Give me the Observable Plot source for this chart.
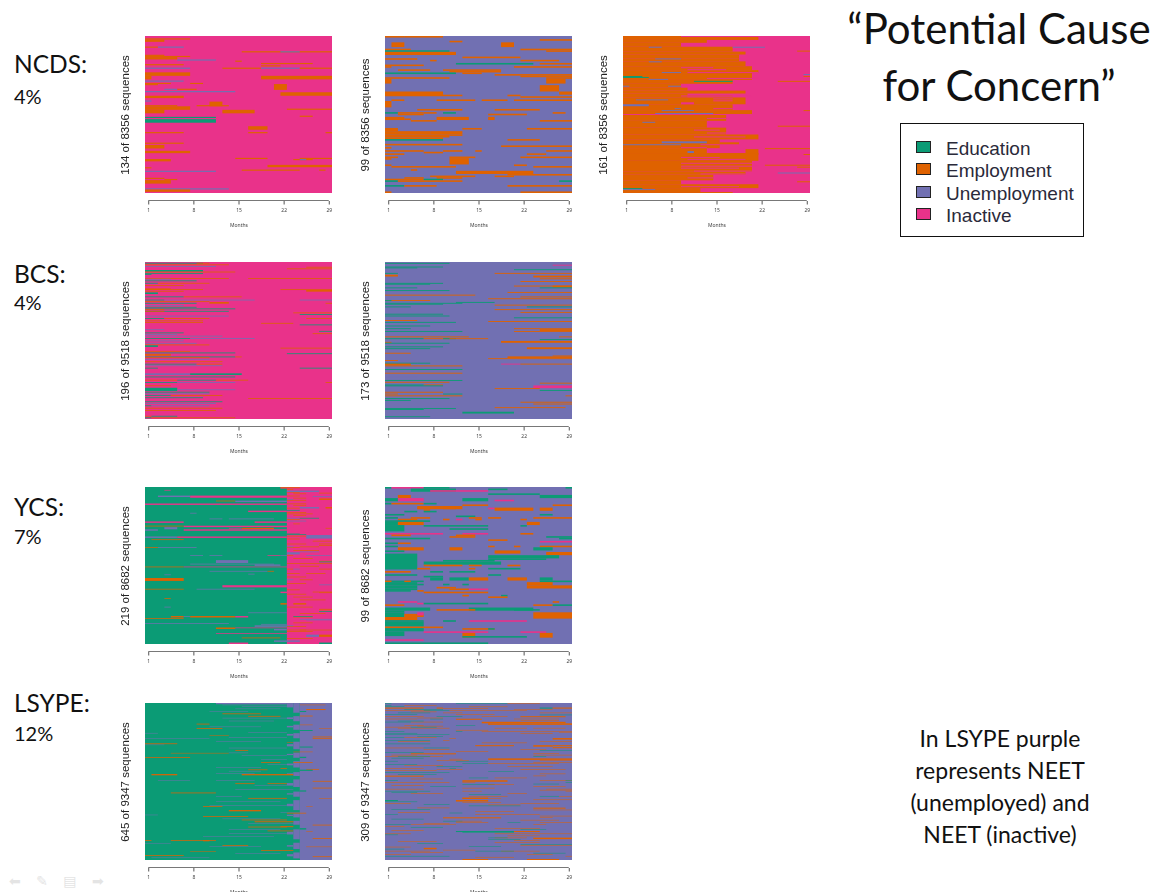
<!DOCTYPE html>
<html><head><meta charset="utf-8">
<script src="https://cdn.jsdelivr.net/npm/d3@7"></script>
<script src="https://cdn.jsdelivr.net/npm/@observablehq/plot@0.6"></script>
<style>
html,body{margin:0;padding:0;background:#fff;overflow:hidden}
#page{position:relative;width:1154px;height:892px;overflow:hidden;background:#fff;font-family:Lato,"Open Sans",sans-serif;color:#111}
.abs{position:absolute;white-space:nowrap}
.panel{position:absolute;filter:blur(0.5px)}
.panel svg{display:block;overflow:visible}
.study{font-size:24.5px;line-height:30px}
.pct{font-size:20px;line-height:30px}
.title{font-size:42px;line-height:57px;text-align:center;width:320px}
.note{font-size:23px;line-height:32px;text-align:center;width:240px}
#legend{position:absolute;left:900px;top:123px;width:184px;height:114px;border:1.5px solid #111;box-sizing:border-box;font-family:"Liberation Sans",Arial,sans-serif;font-size:19px;color:#2a2a3a}
#legend span.sw{position:absolute;left:15px;width:13px;height:10px;border:1.5px solid #222}
#legend span.tx{position:absolute;left:45px;line-height:22px}
#nav{left:9px;top:873px;font-family:"DejaVu Sans";font-size:14px;color:#e4e4e4;word-spacing:11px}
</style></head><body><div id="page"></div>
<script>
const E="Employment",G="Education",U="Unemployment",I="Inactive";
const states=[G,E,U,I];
const stateColors=["#0B9B75","#DF6200","#7170B2","#E9328A"];
const months=[1,8,15,22,29];
const studyNames=[["NCDS:",49],["BCS:",259],["YCS:",492],["LSYPE:",688]];
const studyShares=[["4%",81],["4%",287],["7%",521],["12%",718]];
const titleLines=["“Potential Cause","for Concern”"];
const noteLines=["In LSYPE purple","represents NEET","(unemployed) and","NEET (inactive)"];

// each segment: [state, first sequence, last sequence, first month, last month]; sequences counted from the top
const ncdsInactive=[
[E,3,3,1,7],[E,4,5,1,3],[E,10,10,1,2],[U,10,10,3,6],[E,14,14,16,29],[U,14,14,22,24],[E,17,17,1,3],[E,18,18,1,7],[E,19,20,1,5],[U,21,21,6,11],[E,22,22,15,15],[E,24,24,19,26],[E,25,25,1,6],[E,26,26,19,21],[U,28,28,1,7],[E,28,28,13,18],[U,28,28,19,24],[E,28,28,25,29],[E,32,34,1,7],[E,35,37,1,1],[E,35,37,19,29],[U,39,39,1,6],[E,41,41,1,4],[E,41,41,8,9],[E,42,42,1,2],[E,42,46,21,22],[U,46,46,4,5],[E,46,46,6,8],[U,48,48,1,14],[E,49,51,22,29],[E,52,53,1,6],[U,56,56,1,1],[E,57,60,11,12],[E,60,60,9,13],[E,61,63,1,7],[E,60,60,1,5],[E,63,63,23,29],[E,64,66,1,3],[E,64,66,13,17],[E,69,69,25,26],[G,70,70,1,11],[G,72,74,1,11],[E,78,80,17,19],[E,83,83,1,6],[E,83,83,17,19],[E,83,83,29,29],[E,92,92,1,6],[E,94,96,1,3],[E,99,100,1,7],[E,105,105,15,19],[E,105,105,25,29],[E,106,107,1,4],[E,106,106,24,26],[U,106,106,25,25],[E,111,112,20,29],[E,113,113,1,1],[E,115,115,16,24],[E,115,115,28,28],[U,116,116,1,11],[E,122,122,1,3],[E,123,123,4,5],[E,124,126,1,4],[U,131,131,1,13],[E,132,133,1,7]];

const ncdsUnemployment=[
[E,1,1,1,3],[E,1,1,4,9],[E,3,3,25,29],[E,4,4,11,12],[E,5,7,2,3],[E,5,7,19,20],[E,9,9,22,29],[E,9,9,1,4],[G,10,10,1,10],[E,10,10,26,29],[E,11,12,1,11],[E,14,14,13,21],[E,15,15,1,5],[E,16,16,8,8],[E,16,16,22,27],[G,18,18,12,23],[E,18,18,25,29],[E,19,19,1,6],[E,20,20,1,1],[E,20,20,21,29],[E,22,22,3,7],[E,22,22,10,18],[E,23,23,11,18],[G,24,24,1,11],[E,24,24,13,15],[E,25,25,18,29],[E,26,26,22,29],[E,27,27,1,10],[E,27,27,26,29],[E,28,30,1,1],[E,28,30,26,28],[E,32,35,25,27],[E,36,38,1,9],[E,36,37,28,29],[E,38,38,10,12],[E,38,38,20,21],[E,39,39,22,29],[E,41,41,9,14],[E,41,41,16,19],[E,41,41,21,29],[E,42,45,1,1],[E,41,41,2,3],[E,47,47,6,12],[E,47,47,18,24],[G,49,49,1,2],[E,49,49,3,6],[E,49,49,7,8],[G,49,49,10,11],[E,49,49,27,28],[E,50,50,3,6],[E,50,50,17,22],[E,52,53,1,3],[E,52,53,9,13],[E,52,53,17,17],[E,53,53,4,4],[E,54,54,5,8],[E,54,54,25,29],[E,59,60,1,2],[E,59,59,13,15],[E,59,59,23,29],[E,61,62,1,7],[E,61,62,8,12],[E,63,64,1,10],[E,63,63,11,12],[E,65,65,1,9],[G,66,66,1,9],[E,66,66,20,24],[E,69,69,1,12],[E,70,70,19,29],[E,71,71,1,1],[E,73,73,1,6],[E,73,73,10,12],[E,73,73,15,15],[E,73,73,26,29],[E,74,74,7,9],[E,75,75,1,3],[E,75,75,23,25],[E,77,77,1,2],[E,77,77,11,14],[E,77,77,22,29],[E,78,78,1,1],[E,78,81,11,13],[E,82,82,21,22],[E,82,82,1,1],[E,83,83,2,11],[E,83,83,24,29],[E,85,85,5,5],[E,86,87,12,23],[E,88,88,20,29],[E,89,89,8,14],[E,89,89,18,20],[E,90,90,4,6],[E,90,90,9,12],[E,91,91,1,6],[G,91,91,7,9],[G,92,92,1,2],[E,92,92,3,12],[G,92,92,28,29],[G,95,95,1,3],[E,95,95,4,8],[E,95,95,20,29],[E,99,99,1,1],[E,99,99,22,29]];

const ncdsEmployment=[
[E,1,1,1,9],[E,2,4,1,21],[E,5,7,1,13],[E,8,11,1,9],[E,12,16,1,17],[U,12,12,18,22],[E,17,19,1,19],[E,20,23,1,18],[E,24,26,1,18],[E,27,31,1,19],[E,32,35,1,20],[E,36,38,1,21],[E,39,45,1,20],[E,46,49,1,17],[E,50,53,1,9],[E,54,56,1,10],[E,57,59,1,19],[E,60,63,1,10],[E,62,62,11,17],[E,64,70,1,19],[E,71,76,1,17],[E,77,80,1,20],[E,82,87,1,16],[E,88,94,1,13],[E,95,101,1,16],[E,102,106,1,21],[E,107,115,1,15],[E,110,111,16,18],[E,116,120,1,13],[E,117,122,20,21],[E,121,128,1,21],[E,129,139,1,20],[E,140,142,1,19],[E,143,148,1,14],[E,149,152,1,9],[E,153,156,1,21],[E,157,160,1,12],[E,161,161,1,17],
[I,35,35,11,16],[I,38,38,11,21],[I,44,44,14,21],[I,33,33,10,14],[I,62,62,10,20],[I,65,65,15,17],[I,67,67,15,17],[I,75,75,15,17],[I,85,85,14,16],[I,97,97,12,15],[I,100,100,14,17],[I,104,104,12,19],[I,112,112,13,15],[I,115,115,10,13],[I,125,125,10,15],[I,127,127,11,19],[I,131,131,10,20],[I,134,134,10,21],[I,136,136,10,18],[I,139,139,12,20],[I,142,142,13,19],[I,146,146,11,14],[I,155,155,10,18],
[U,12,12,5,6],[U,24,24,6,7],[U,24,24,8,9],[U,27,27,5,6],[U,38,38,7,9],[G,42,42,1,3],[G,43,43,1,4],[U,45,45,5,7],[G,47,47,12,17],[U,52,52,1,1],[U,52,52,8,9],[U,66,66,3,7],[I,69,70,10,11],[U,71,72,1,4],[U,75,75,9,9],[U,77,77,7,11],[U,80,80,6,14],[U,89,89,4,5],[U,109,110,7,13],[U,112,112,1,9],[U,119,120,11,11],[E,16,16,28,29],[E,42,42,29,29],[U,40,40,29,29],[E,47,47,25,29],[E,77,77,29,29],[E,93,93,25,29],[E,116,116,23,29],[E,122,122,29,29],[E,133,133,23,29],[E,135,135,28,29],[U,141,141,25,29],[E,150,150,28,29],[G,157,157,1,3],[U,158,158,1,5]];

const bcsInactive=[
[G,2,2,1,9],[E,2,2,9,10],[E,4,4,1,13],[U,6,6,1,11],[E,7,7,26,29],[E,9,9,23,29],[G,11,12,1,9],[E,13,13,1,9],[E,13,13,10,14],[G,15,15,1,9],[G,16,16,1,1],[E,21,21,1,13],[E,21,21,17,29],[U,22,22,1,4],[G,24,24,1,8],[G,27,27,1,2],[E,27,27,3,10],[E,30,30,1,6],[E,34,35,1,4],[E,35,35,5,9],[E,35,35,22,29],[E,36,37,26,29],[E,37,37,1,6],[G,39,40,1,2],[G,44,44,1,6],[E,44,44,7,15],[G,48,48,1,3],[U,48,48,4,17],[U,48,48,25,29],[E,50,50,1,10],[G,52,52,1,8],[E,51,52,11,13],[E,52,52,29,29],[U,55,55,1,6],[G,57,57,1,8],[G,59,59,1,14],[E,60,60,1,3],[G,62,62,1,13],[E,64,64,24,29],[E,62,62,1,3],[G,66,66,25,29],[U,68,68,1,13],[G,71,71,1,3],[E,71,71,4,10],[E,71,71,26,29],[E,74,74,1,9],[E,76,76,1,9],[E,77,77,19,23],[G,79,79,25,29],[U,85,85,1,1],[U,85,85,2,3],[G,87,87,28,29],[G,89,89,1,6],[E,90,90,27,29],[U,91,91,1,5],[U,93,93,1,12],[G,96,96,1,7],[U,96,96,8,17],[U,99,99,1,6],[U,102,102,1,8],[E,104,104,1,10],[G,105,106,1,2],[E,108,108,22,29],[E,112,112,1,7],[G,114,114,1,14],[G,115,115,23,29],[E,116,117,1,4],[G,119,119,1,14],[E,119,119,15,15],[E,120,120,1,10],[U,122,122,1,10],[E,125,125,1,12],[G,128,128,1,8],[E,128,128,9,12],[U,130,130,1,12],[G,133,133,1,2],[G,133,133,25,29],[U,140,141,1,7],[G,140,141,8,15],[G,144,144,1,14],[E,148,148,1,5],[G,148,148,6,11],[E,148,148,12,16],[G,151,151,1,5],[U,151,151,6,14],[E,151,151,29,29],[E,155,155,1,4],[G,158,161,1,5],[U,160,160,6,14],[G,163,163,1,10],[U,165,165,1,10],[G,167,167,1,4],[E,167,167,5,12],[G,170,170,1,9],[E,171,171,17,29],[G,175,175,1,12],[U,177,177,1,11],[G,180,180,1,1],[U,180,180,2,10],[E,183,183,1,12],[E,186,186,1,4],[E,186,186,5,11],[E,193,193,1,1],[G,193,193,2,5],[G,195,195,1,1],[E,195,195,2,14]];

const bcsUnemployment=[
[G,2,2,1,10],[I,4,4,27,29],[G,6,6,1,9],[G,7,7,1,5],[G,9,9,21,29],[G,13,13,1,2],[E,13,13,18,29],[E,15,16,1,2],[E,16,17,24,29],[E,19,19,25,29],[E,22,22,22,29],[G,24,24,1,9],[G,25,25,1,7],[E,27,27,21,29],[E,27,28,27,29],[G,29,29,1,5],[G,29,29,25,29],[G,32,32,1,10],[E,34,34,20,29],[E,37,37,1,14],[E,39,39,22,29],[E,41,41,17,29],[E,43,43,1,7],[G,43,43,1,1],[G,45,45,12,17],[G,46,46,1,12],[G,47,47,1,9],[E,48,48,18,29],[G,50,50,1,4],[G,50,50,23,29],[E,53,53,18,29],[E,56,56,22,29],[G,58,58,1,9],[G,60,60,1,10],[G,62,62,21,29],[E,65,65,1,5],[E,66,66,17,29],[G,67,67,1,11],[G,71,71,1,7],[G,74,74,1,4],[E,74,74,21,29],[E,75,76,25,29],[G,77,77,1,12],[E,77,77,21,29],[E,83,83,1,13],[E,83,83,28,29],[G,85,85,1,6],[E,85,85,7,10],[G,85,85,10,11],[E,85,85,11,16],[G,86,86,25,29],[E,88,89,19,29],[E,89,89,1,1],[G,90,90,1,10],[G,94,94,1,9],[G,96,96,1,7],[E,95,96,23,29],[E,101,101,1,4],[E,104,104,27,29],[E,105,106,20,29],[E,107,107,17,29],[E,109,109,1,2],[G,112,112,1,5],[G,112,112,6,7],[E,113,114,1,4],[I,113,113,19,21],[E,113,113,22,29],[E,115,115,1,12],[G,119,119,1,12],[E,123,123,1,12],[U,127,127,1,5],[G,131,131,1,12],[E,133,133,1,10],[E,134,134,25,29],[G,136,136,1,6],[E,136,136,7,9],[G,137,137,1,9],[I,137,139,24,29],[E,140,140,18,24],[G,142,142,25,29],[E,144,144,1,9],[E,146,146,1,2],[G,146,146,10,12],[E,148,148,1,7],[E,148,148,8,12],[E,148,148,29,29],[G,151,151,1,10],[G,153,153,1,4],[E,155,155,22,29],[E,157,157,24,29],[E,161,161,18,28],[G,162,163,1,6],[G,162,162,7,11],[G,166,167,13,20],[G,171,171,1,7]];

const ycsEducation=[
[I,1,219,23,29],[E,1,2,22,24],[U,6,7,23,27],[I,2,2,22,24],[I,5,5,4,4],[E,8,8,23,24],[E,9,9,28,29],[I,9,9,23,23],[U,13,14,3,7],[I,13,15,8,22],[U,14,14,27,29],[E,17,18,28,29],[U,18,18,23,23],[E,20,20,12,14],[U,20,21,15,22],[E,19,19,23,25],[I,24,25,1,22],[U,29,30,25,27],[E,29,30,29,29],[E,30,30,23,24],[I,34,35,17,22],[U,37,37,8,8],[E,36,36,23,25],[U,45,45,11,12],[U,45,45,14,20],[I,49,50,1,6],[I,49,50,18,23],[U,48,48,23,25],[E,55,55,1,6],[I,55,56,7,23],[U,57,59,4,5],[I,58,58,14,15],[E,58,59,16,20],[E,58,58,29,29],[U,60,61,1,2],[I,60,61,7,22],[U,68,72,26,29],[U,70,71,1,5],[I,70,71,6,22],[E,69,69,23,25],[E,74,74,2,6],[E,76,76,27,29],[E,82,82,28,29],[E,85,85,1,2],[U,85,85,3,8],[E,85,85,23,24],[U,96,96,8,9],[U,96,96,11,12],[I,96,96,20,21],[U,96,96,22,22],[U,96,96,29,29],[U,92,94,23,24],[U,103,106,12,16],[U,108,108,8,20],[U,109,110,18,21],[E,112,112,1,6],[I,112,112,7,23],[U,118,118,11,19],[E,118,118,20,20],[U,122,122,17,17],[U,123,123,4,4],[E,128,131,1,6],[I,138,140,13,22],[E,143,143,1,6],[U,143,143,9,17],[E,148,148,28,29],[I,147,148,22,23],[E,156,156,4,4],[E,163,164,22,22],[E,163,164,24,25],[U,168,168,4,4],[E,171,171,28,29],[U,176,176,17,22],[E,181,182,5,6],[U,181,181,7,7],[E,181,182,8,14],[I,181,182,15,16],[E,184,184,1,6],[U,185,185,25,29],[E,182,182,24,26],[U,191,191,1,13],[U,192,192,19,22],[U,194,195,18,23],[E,197,198,12,14],[I,197,197,15,22],[U,199,200,21,22],[E,200,200,23,25],[I,205,205,12,23],[U,207,209,26,27],[E,207,209,28,29],[E,211,211,16,21],[U,215,216,21,24],[I,218,219,14,16],[G,218,219,28,29],
[E,4,4,23,23],[E,10,10,24,25],[E,13,13,23,24],[E,16,16,24,25],[E,24,24,23,25],[E,26,26,24,25],[G,33,33,23,24],[E,38,38,23,25],[E,38,38,26,26],[E,40,40,24,25],[U,44,44,23,24],[G,44,44,25,27],[E,46,46,23,24],[E,52,52,24,24],[G,66,66,23,24],[G,67,67,23,25],[E,73,73,23,24],[E,80,80,23,25],[E,80,80,28,29],[U,84,84,23,23],[E,84,84,25,27],[E,89,89,24,27],[U,91,91,25,27],[U,96,96,26,28],[E,96,96,23,23],[E,100,100,24,26],[E,104,104,28,29],[G,105,105,28,29],[E,107,107,23,29],[E,111,111,25,27],[E,115,115,23,23],[U,115,115,24,24],[E,115,115,28,29],[E,121,121,26,28],[E,121,121,23,24],[E,126,126,23,25],[U,130,130,23,23],[E,130,130,25,26],[E,135,135,23,25],[U,137,137,28,29],[E,144,144,23,24],[E,147,147,27,29],[E,150,150,23,25],[E,154,154,24,26],[E,158,158,25,28],[E,168,168,23,26],[E,172,172,28,29],[G,174,174,28,29],[E,177,177,25,28],[G,181,181,24,26],[U,186,186,26,29],[E,190,190,24,26],[E,195,195,23,25],[E,200,200,25,29],[E,202,202,23,26],[E,212,212,23,26]];

const ycsUnemployment=[
[G,1,1,1,1],[I,1,1,2,6],[G,1,1,7,10],[G,1,1,29,29],[G,2,3,5,11],[G,2,2,17,19],[I,3,3,8,16],[G,5,5,17,24],[E,6,7,3,4],[G,6,7,25,29],[G,8,9,1,2],[I,8,9,3,6],[G,8,9,13,16],[I,9,9,18,20],[G,11,11,1,1],[E,11,11,2,6],[G,11,11,7,8],[E,12,12,13,16],[E,12,12,27,29],[E,13,14,6,12],[E,14,14,6,6],[E,13,14,10,11],[I,14,14,17,17],[E,14,15,18,23],[E,14,15,25,26],[E,15,15,7,7],[G,16,16,4,5],[G,16,16,7,8],[G,18,18,1,3],[G,18,18,25,26],[G,19,19,12,14],[G,20,20,1,2],[E,20,20,5,7],[E,20,20,14,15],[E,20,20,17,18],[E,20,20,24,29],[E,21,21,3,5],[E,21,21,10,10],[I,21,21,12,12],[E,21,21,15,15],[E,21,21,22,22],[G,22,22,1,7],[G,23,24,1,2],[E,23,24,3,6],[E,23,24,23,24],[G,25,28,1,3],[G,25,25,7,9],[G,25,25,10,16],[G,27,27,11,16],[G,25,25,22,22],[I,30,30,1,9],[I,30,30,13,16],[E,30,30,22,23],[E,31,31,2,4],[E,31,31,12,14],[E,32,32,11,14],[G,32,32,26,29],[G,33,33,1,7],[G,33,33,28,29],[E,34,34,17,19],[I,35,35,25,29],[G,36,36,1,2],[E,36,36,3,4],[G,38,38,1,2],[E,38,38,17,17],[E,38,38,21,21],[E,38,38,25,29],[E,39,40,3,6],[E,39,40,11,12],[G,39,40,24,26],[G,41,41,1,3],[E,41,42,18,21],[E,42,43,26,29],[G,43,52,1,5],[G,44,45,17,27],[G,46,46,17,25],[G,47,47,10,17],[G,48,49,7,18],[E,50,50,7,12],[E,50,50,14,15],[E,50,50,20,21],[E,52,52,6,7],[E,52,52,14,14],[G,52,52,17,21],[E,54,54,1,4],[G,54,54,8,9],[G,54,54,11,14],[G,56,56,1,5],[G,56,56,17,18],[G,57,57,7,9],[G,58,59,8,9],[G,58,59,11,13],[E,58,59,14,16],[E,58,59,20,22],[G,58,59,25,26],[G,60,60,1,6],[E,60,60,1,1],[E,60,60,4,4],[G,60,60,25,29],[G,61,62,1,5],[G,62,62,6,6],[G,62,62,10,10],[G,62,62,13,13],[E,61,62,23,26],[G,63,64,1,5],[E,64,64,9,11],[E,63,64,23,29],[E,65,65,11,13],[I,65,65,14,16],[G,65,65,1,5],[E,66,66,6,6],[G,66,66,1,4],[E,67,67,7,16],[E,69,69,13,13],[G,69,69,19,19],[E,70,70,17,19],[I,73,73,3,5],[I,74,74,6,6],[G,74,74,7,16],[E,73,73,27,27],[E,75,75,1,3],[E,75,75,24,26],[G,75,75,27,29],[G,77,78,1,7],[G,77,78,14,23],[E,78,78,9,14],[G,79,79,1,3],[G,78,78,21,24],[G,80,82,1,3],[E,81,82,4,6],[I,80,81,6,6],[E,80,83,24,29],[E,83,84,1,5],[G,85,85,1,6],[G,85,85,10,11],[I,85,85,14,22],[G,86,88,1,6],[E,89,89,1,9],[G,90,91,1,6],[E,90,90,13,17],[G,90,90,17,17],[I,92,92,7,16],[I,92,92,22,25],[G,92,94,1,3],[E,93,95,13,14],[E,93,95,25,26],[G,95,95,13,22],[I,97,97,1,6],[G,99,99,1,16]];

const lsypeEducation=[
[U,1,645,25,29],
[U,1,40,24,24],[U,55,75,24,24],[U,90,110,24,24],[U,125,145,24,24],[U,160,190,24,24],[U,205,225,24,24],[U,240,265,24,24],[U,285,300,24,24],[U,315,345,24,24],[U,365,385,24,24],[U,400,440,24,24],[U,455,470,24,24],[U,485,500,24,24],[U,520,560,24,24],[U,575,600,24,24],[U,615,640,24,24],
[U,1,18,23,23],[U,60,66,23,23],[U,95,100,23,23],[U,128,134,23,23],[U,170,178,23,23],[U,210,214,23,23],[U,250,256,23,23],[U,290,294,23,23],[U,330,338,23,23],[U,372,376,23,23],[U,415,424,23,23],[U,460,464,23,23],[U,530,540,23,23],[U,585,590,23,23],[U,622,630,23,23],
[U,1,5,12,22],[U,8,9,13,22],[U,14,15,16,22],[U,24,25,15,21],[U,35,36,11,16],[U,62,63,13,22],[U,74,75,14,20],[U,98,99,11,18],[U,122,123,17,22],[U,124,125,1,2],[U,145,146,1,10],[U,142,143,14,22],[U,158,159,12,18],[U,172,173,1,3],[U,185,186,14,22],[U,205,206,14,16],[U,216,217,16,22],[U,233,234,19,22],[U,252,253,20,22],[U,265,266,12,18],[U,280,281,14,18],[U,290,291,12,17],[U,318,319,3,7],[U,318,319,12,17],[U,340,341,18,23],[U,356,357,15,23],[U,384,385,12,15],[U,405,406,12,21],[U,420,421,11,22],[U,450,451,22,24],[U,460,461,1,2],[U,476,477,13,21],[U,494,495,17,23],[U,520,521,14,21],[U,535,536,14,22],[U,548,549,10,20],[U,576,577,1,4],[U,590,591,11,18],[U,618,619,15,21],[U,636,637,2,10],
[E,44,46,13,18],[E,54,56,17,21],[E,86,88,9,10],[E,104,106,9,12],[E,133,134,11,13],[E,167,169,1,5],[E,194,196,15,16],[E,206,207,5,13],[E,224,226,1,7],[E,244,246,19,21],[E,269,271,22,22],[E,274,276,17,19],[E,293,297,2,5],[E,293,297,16,23],[E,331,333,15,17],[E,331,333,20,22],[E,369,371,5,11],[E,391,393,17,22],[E,425,427,10,12],[E,441,445,14,18],[E,466,468,10,16],[E,480,482,16,22],[E,487,490,18,23],[E,507,510,22,23],[E,509,511,17,22],[E,525,527,20,23],[E,565,567,1,1],[E,565,567,5,11],[E,565,568,10,10],[E,585,587,13,16],[E,606,608,19,23],[E,610,611,8,11],[E,626,628,1,6],
[E,8,9,25,28],[E,26,29,26,28],[E,53,55,25,26],[E,90,91,25,26],[E,104,105,28,29],[E,139,141,27,29],[E,146,148,27,29],[E,163,164,23,23],[E,201,202,24,26],[E,244,246,24,26],[E,272,274,26,27],[E,321,323,27,29],[E,349,351,27,29],[E,393,394,28,29],[E,426,427,26,26],[E,452,454,23,25],[E,501,503,27,29],[E,528,529,26,26],[E,556,558,27,29],[E,591,592,26,29],[E,631,633,27,29],
[G,34,37,25,25],[G,112,115,25,26],[G,222,226,25,25],[G,275,279,25,26],[G,515,520,25,25],[G,640,645,23,24],[G,180,183,25,26],[G,360,364,25,25]];

const lsypeUnemployment=[
[G,2,2,1,1],[G,2,2,12,19],[E,2,2,20,24],[G,6,6,1,1],[E,10,11,1,2],[E,10,11,3,6],[E,10,11,9,9],[E,11,11,10,16],[G,10,11,25,26],[E,10,11,27,29],[E,15,15,1,7],[G,15,15,7,10],[E,15,15,11,22],[G,20,20,3,7],[E,20,20,10,12],[E,20,20,25,29],[E,27,27,1,6],[G,27,27,9,12],[E,27,27,16,19],[E,27,28,22,28],[E,32,32,1,5],[G,32,32,8,9],[E,32,33,12,15],[E,32,32,21,27],[G,38,38,1,4],[E,38,38,5,9],[E,38,40,16,28],[E,41,43,17,29],[E,45,45,4,6],[G,45,45,12,14],[E,46,46,6,9],[E,50,50,3,10],[E,50,50,18,22],[E,50,50,24,28],[G,57,57,1,3],[G,57,57,12,12],[E,57,57,16,27],[E,57,58,28,29],[G,63,63,1,6],[G,63,63,7,10],[G,66,66,6,9],[E,70,70,11,11],[E,70,72,27,29],[G,74,74,1,7],[E,74,74,10,10],[E,84,85,15,20],[E,84,86,24,26],[E,84,85,27,29],[E,89,89,1,6],[G,89,89,7,10],[E,88,89,27,29],[G,94,94,25,29],[E,100,101,5,11],[E,100,100,24,27],[E,106,106,1,9],[G,106,106,3,7],[G,106,106,24,25],[E,111,111,11,12],[E,110,112,17,29],[G,115,115,1,2],[G,115,115,12,16],[G,120,120,13,16],[E,120,120,17,27],[E,124,124,4,9],[E,129,129,1,6],[G,129,129,11,11],[E,133,133,1,5],[E,133,133,6,8],[G,137,137,1,10],[E,144,145,1,6],[E,144,144,24,25],[G,148,148,14,16],[G,153,153,1,2],[E,153,155,13,19],[E,153,153,25,29],[G,153,153,29,29],[E,157,157,1,10],[E,157,157,13,14],[G,157,157,29,29],[G,161,161,13,17],[E,161,161,17,20],[E,170,170,1,6],[E,170,170,26,29],[G,174,174,1,7],[E,174,174,13,15],[E,174,174,29,29],[E,184,184,14,19],[G,184,184,25,27],[E,184,184,28,29],[E,187,189,13,16],[E,188,188,13,18],[G,192,193,1,2],[E,192,194,12,16],[E,196,196,13,18],[G,203,203,14,19],[G,203,203,20,21],[E,207,207,6,10],[E,207,208,24,28],[E,214,214,15,20],[G,220,220,1,2],[E,220,220,15,22],[E,220,220,23,24],[E,226,227,10,18],[E,226,226,25,26],[G,233,233,10,12],[E,233,233,12,15],[G,236,236,20,21],[E,236,236,12,16],[E,236,236,25,29],[G,240,240,1,4],[E,240,240,5,11],[E,240,240,24,25],[G,253,255,13,20],[G,253,254,12,13],[E,253,254,21,24],[E,258,258,18,29],[E,266,266,18,22],[G,266,266,17,19],[E,266,268,24,29],[E,271,271,21,24],[G,279,279,22,29],[E,286,288,7,8],[E,292,292,1,7],[E,292,292,19,24],[G,292,292,15,20],[E,299,299,23,26],[E,299,299,1,4],[G,302,302,1,10],[E,302,302,29,29],[E,308,309,13,16],[E,308,309,23,27],
[E,5,5,4,8],[G,7,7,1,3],[E,8,8,14,19],[E,13,13,21,26],[G,13,13,4,9],[E,18,18,5,8],[G,23,23,1,5],[E,23,23,12,17],[G,24,24,25,29],[E,30,30,6,9],[E,35,35,22,27],[G,36,36,3,6],[E,48,48,1,4],[G,48,48,5,8],[E,54,54,12,16],[G,60,60,1,5],[E,60,60,22,26],[G,68,68,1,3],[E,68,68,4,8],[E,76,76,3,7],[E,76,76,25,29],[E,79,79,16,22],[G,81,81,1,4],[G,81,81,5,7],[E,92,92,7,10],[E,92,92,22,25],[E,96,96,12,16],[G,98,98,1,6],[E,103,103,2,5],[E,103,103,24,29],[G,109,109,2,6],[E,114,114,9,13],[E,114,114,25,29],[E,118,118,24,29],[G,122,122,1,5],[E,126,126,20,26],[G,126,126,9,12],[E,131,131,9,12],[E,131,131,22,28],[G,135,135,17,20],[E,140,140,25,28],[G,141,141,3,8],[E,148,148,18,22],[E,150,150,5,9],[G,160,160,24,27],[E,163,163,2,6],[G,165,165,8,11],[E,165,165,24,28],[E,168,168,13,17],[E,172,172,25,29],[G,177,177,2,5],[E,179,179,5,9],[E,179,179,20,22],[G,181,181,14,18],[E,191,191,24,29],[G,195,195,1,5],[E,198,198,1,4],[E,198,198,22,27],[G,200,200,7,10],[E,201,201,17,21],[G,210,210,2,7],[E,211,211,24,29],[E,216,216,3,7],[G,217,217,11,12],[E,223,223,25,29],[G,229,229,2,6],[E,231,231,22,27],[E,238,238,7,10],[E,243,243,1,3],[G,245,245,5,9],[E,247,247,18,24],[G,249,249,22,25],[E,251,251,2,6],[E,258,258,1,4],[G,260,260,1,2],[E,262,262,20,24],[G,269,269,17,21],[E,273,273,3,8],[E,275,275,18,24],[G,277,277,6,9],[E,281,281,22,29],[G,283,283,14,18],[E,284,284,1,4],[G,288,288,1,3],[E,290,290,10,14],[E,295,295,5,9],[G,296,296,24,28],[E,304,304,15,20]];

const panels=[
 {total:8356,n:134,bg:I,left:105,top:30,seg:ncdsInactive},
 {total:8356,n:99,bg:U,left:345,top:30,seg:ncdsUnemployment},
 {total:8356,n:161,bg:I,left:583,top:30,seg:ncdsEmployment},
 {total:9518,n:196,bg:I,left:105,top:256,seg:bcsInactive},
 {total:9518,n:173,bg:U,left:345,top:256,seg:bcsUnemployment},
 {total:8682,n:219,bg:G,left:105,top:481,seg:ycsEducation},
 {total:8682,n:99,bg:U,left:345,top:481,seg:ycsUnemployment},
 {total:9347,n:645,bg:G,left:105,top:697,seg:lsypeEducation},
 {total:9347,n:309,bg:U,left:345,top:697,seg:lsypeUnemployment}
];

const page=document.getElementById("page");
for(const p of panels){
  const rows=[[p.bg,1,p.n,1,29],...p.seg].map(([state,r0,r1,m0,m1])=>({state,y1:r0-1,y2:r1,x1:m0-0.5,x2:m1+0.5}));
  const fig=Plot.plot({
    width:233,height:171,marginLeft:40,marginRight:6,marginTop:6,marginBottom:0,
    style:{background:"transparent",overflow:"visible"},
    x:{domain:[0.5,29.5],range:[40,227]},
    y:{domain:[0,p.n],range:[6,163],axis:null},
    color:{domain:states,range:stateColors},
    marks:[
      Plot.rect(rows,{x1:"x1",x2:"x2",y1:"y1",y2:"y2",fill:"state"}),
      Plot.ruleY([p.n],{x1:1,x2:29,dy:7,stroke:"#555",strokeWidth:0.8}),
      Plot.axisX({ticks:months,tickFormat:d=>d,tickSize:3.5,tickPadding:3,fontSize:5,stroke:"#555",color:"#444",
        label:"Months",labelAnchor:"center",labelArrow:"none",labelOffset:25}),
      Plot.text([`${p.n} of ${p.total} sequences`],{frameAnchor:"left",textAnchor:"middle",rotate:-90,dx:-20,dy:-4,fontSize:11.5,fontFamily:"Liberation Sans",fill:"#222"})
    ]
  });
  fig.classList.add("panel");
  fig.style.left=p.left+"px"; fig.style.top=p.top+"px";
  page.appendChild(fig);
}
function add(cls,html,left,top){const d=document.createElement("div");d.className="abs "+cls;d.innerHTML=html;d.style.left=left+"px";d.style.top=top+"px";page.appendChild(d);}
for(const [name,top] of studyNames) add("study",name,14,top);
for(const [share,top] of studyShares) add("pct",share,14,top);
add("title",titleLines.join("<br>"),839,0);
add("note",noteLines.join("<br>"),880,722);
const lg=document.createElement("div");lg.id="legend";
states.forEach((s,i)=>{lg.innerHTML+=`<span class="sw" style="top:${17+i*22.3}px;background:${stateColors[i]}"></span><span class="tx" style="top:${14+i*22.3}px">${s}</span>`;});
page.appendChild(lg);
const nav=document.createElement("div");nav.id="nav";nav.className="abs";nav.textContent="⬅ ✎ ▤ ➡";page.appendChild(nav);
</script></body></html>
